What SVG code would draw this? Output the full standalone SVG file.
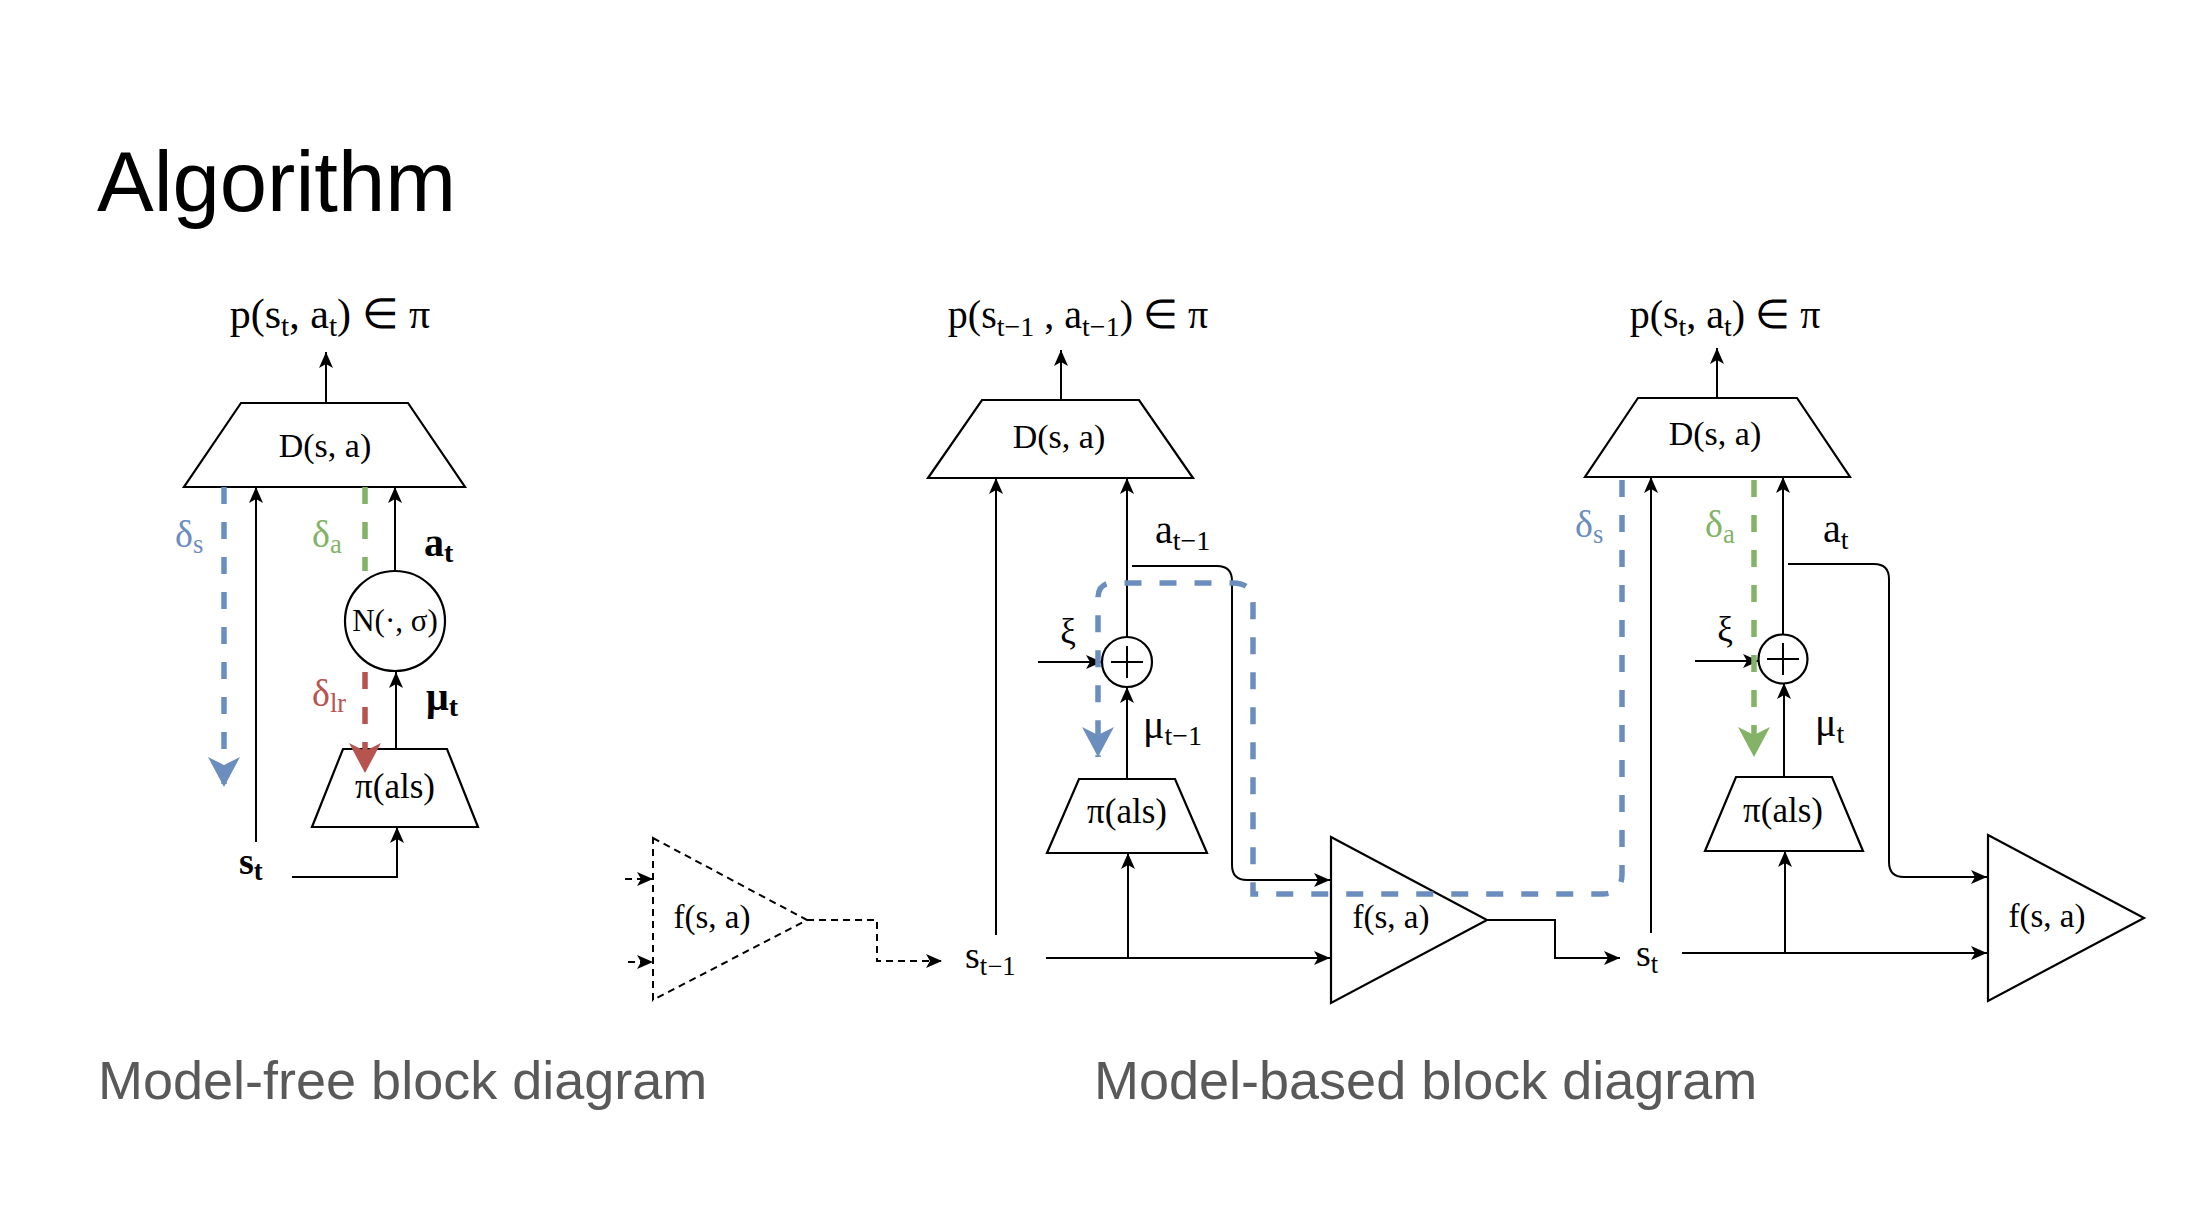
<svg xmlns="http://www.w3.org/2000/svg" width="2190" height="1232" viewBox="0 0 2190 1232">
<style>
.bg{fill:#fff}
.s{font-family:"Liberation Serif","Times New Roman",serif;fill:#000}
.h{font-family:"Liberation Sans",Arial,sans-serif}
.sb{font-size:70%}
.ln{fill:none;stroke:#000;stroke-width:2}
.box{fill:#fff;stroke:#000;stroke-width:2.2;stroke-linejoin:miter}
.dsh{fill:none;stroke:#000;stroke-width:2;stroke-dasharray:7 5}
.blue{fill:none;stroke:#6C8EBF;stroke-width:5.5;stroke-dasharray:17 18}
.green{fill:none;stroke:#82B366;stroke-width:5.5;stroke-dasharray:17 18}
.red{fill:none;stroke:#B85450;stroke-width:5.5;stroke-dasharray:17 18}
.cap{font-family:"Liberation Sans",Arial,sans-serif;font-size:54px;fill:#595959}
</style>
<defs>
<marker id="ak" markerUnits="userSpaceOnUse" markerWidth="18" markerHeight="16" refX="16" refY="8" orient="auto"><path d="M0,1 L16,8 L0,15 L4,8 Z" fill="#000"/></marker>
<marker id="ab" markerUnits="userSpaceOnUse" markerWidth="32" markerHeight="34" refX="30" refY="17" orient="auto"><path d="M0,1 L30,17 L0,33 L8,17 Z" fill="#6C8EBF"/></marker>
<marker id="ag" markerUnits="userSpaceOnUse" markerWidth="32" markerHeight="34" refX="30" refY="17" orient="auto"><path d="M0,1 L30,17 L0,33 L8,17 Z" fill="#82B366"/></marker>
<marker id="ar" markerUnits="userSpaceOnUse" markerWidth="32" markerHeight="34" refX="30" refY="17" orient="auto"><path d="M0,1 L30,17 L0,33 L8,17 Z" fill="#B85450"/></marker>
</defs>
<rect class="bg" x="0" y="0" width="2190" height="1232"/>

<text class="h" x="97" y="211" font-size="85" fill="#000">Algorithm</text>
<text class="cap" x="98" y="1099">Model-free block diagram</text>
<text class="cap" x="1094" y="1099">Model-based block diagram</text>

<!-- left nodes -->
<g id="left-out"><text class="s" x="330" y="328" font-size="42" text-anchor="middle">p(s<tspan class="sb" dy="8">t</tspan><tspan dy="-8">, a</tspan><tspan class="sb" dy="8">t</tspan><tspan dy="-8">) ∈ π</tspan></text></g>
<g id="left-D"><polygon class="box" points="241,403 408,403 465,487 184,487"/><text class="s" x="325" y="457" font-size="34" text-anchor="middle">D(s, a)</text></g>
<g id="left-N"><circle class="box" cx="395" cy="621" r="50"/><text class="s" x="395" y="631" font-size="31" text-anchor="middle">N(·, σ)</text></g>
<g id="left-pi"><polygon class="box" points="343,749 447,749 478,827 312,827"/><text class="s" x="395" y="798" font-size="35" text-anchor="middle">π(als)</text></g>
<g id="left-labels">
  <text class="s" x="175" y="547" font-size="38" style="fill:#6C8EBF">δ<tspan class="sb" dy="6">s</tspan></text>
  <text class="s" x="312" y="547" font-size="38" style="fill:#82B366">δ<tspan class="sb" dy="6">a</tspan></text>
  <text class="s" x="312" y="706" font-size="38" style="fill:#B85450">δ<tspan class="sb" dy="6">lr</tspan></text>
  <text class="s" x="424" y="556" font-size="40" font-weight="bold">a<tspan class="sb" dy="6">t</tspan></text>
  <text class="s" x="426" y="710" font-size="40" font-weight="bold">μ<tspan class="sb" dy="6">t</tspan></text>
  <text class="s" x="239" y="874" font-size="38" font-weight="bold">s<tspan class="sb" dy="6">t</tspan></text>
</g>

<!-- dashed model -->
<g id="f-prev"><polygon class="dsh" points="653,838 807,920 653,1000"/><text class="s" x="712" y="928" font-size="33" text-anchor="middle">f(s, a)</text></g>
<g id="s-prev"><text class="s" x="965" y="968" font-size="38">s<tspan class="sb" dy="7">t−1</tspan></text></g>

<!-- middle nodes -->
<g id="mid-out"><text class="s" x="1078" y="328" font-size="40" text-anchor="middle">p(s<tspan class="sb" dy="8">t−1</tspan><tspan dy="-8"> , a</tspan><tspan class="sb" dy="8">t−1</tspan><tspan dy="-8">) ∈ π</tspan></text></g>
<g id="mid-D"><polygon class="box" points="982,400 1139,400 1193,478 928,478"/><text class="s" x="1059" y="448" font-size="34" text-anchor="middle">D(s, a)</text></g>
<g id="mid-sum"><circle class="box" cx="1127" cy="662" r="25"/><path class="ln" d="M1111,662 H1143 M1127,646 V678"/></g>
<g id="mid-pi"><polygon class="box" points="1079,779 1175,779 1207,853 1047,853"/><text class="s" x="1127" y="823" font-size="35" text-anchor="middle">π(als)</text></g>
<g id="mid-f"><polygon class="box" points="1331,837 1487,920 1331,1003"/><text class="s" x="1391" y="928" font-size="33" text-anchor="middle">f(s, a)</text></g>
<g id="mid-labels">
  <text class="s" x="1155" y="543" font-size="40">a<tspan class="sb" dy="7">t−1</tspan></text>
  <text class="s" x="1068" y="643" font-size="35" text-anchor="middle">ξ</text>
  <text class="s" x="1143" y="738" font-size="40">μ<tspan class="sb" dy="7">t−1</tspan></text>
</g>
<g id="s-t"><text class="s" x="1636" y="966" font-size="38">s<tspan class="sb" dy="7">t</tspan></text></g>

<!-- right nodes -->
<g id="right-out"><text class="s" x="1725" y="328" font-size="40" text-anchor="middle">p(s<tspan class="sb" dy="8">t</tspan><tspan dy="-8">, a</tspan><tspan class="sb" dy="8">t</tspan><tspan dy="-8">) ∈ π</tspan></text></g>
<g id="right-D"><polygon class="box" points="1638,398 1797,398 1850,477 1585,477"/><text class="s" x="1715" y="445" font-size="34" text-anchor="middle">D(s, a)</text></g>
<g id="right-sum"><circle class="box" cx="1783" cy="659" r="24.5"/><path class="ln" d="M1767,659 H1799 M1783,643 V675"/></g>
<g id="right-pi"><polygon class="box" points="1736,777 1832,777 1863,851 1705,851"/><text class="s" x="1783" y="822" font-size="35" text-anchor="middle">π(als)</text></g>
<g id="right-f"><polygon class="box" points="1988,835 2144,918 1988,1001"/><text class="s" x="2047" y="927" font-size="33" text-anchor="middle">f(s, a)</text></g>
<g id="right-labels">
  <text class="s" x="1575" y="537" font-size="38" style="fill:#6C8EBF">δ<tspan class="sb" dy="6">s</tspan></text>
  <text class="s" x="1705" y="537" font-size="38" style="fill:#82B366">δ<tspan class="sb" dy="6">a</tspan></text>
  <text class="s" x="1823" y="542" font-size="40">a<tspan class="sb" dy="7">t</tspan></text>
  <text class="s" x="1725" y="641" font-size="35" text-anchor="middle">ξ</text>
  <text class="s" x="1815" y="736" font-size="40">μ<tspan class="sb" dy="7">t</tspan></text>
</g>

<!-- connectors (drawn on top) -->
<g id="connectors">
  <!-- left -->
  <line class="ln" x1="326" y1="403" x2="326" y2="352" marker-end="url(#ak)"/>
  <line class="ln" x1="256" y1="842" x2="256" y2="487" marker-end="url(#ak)"/>
  <line class="ln" x1="395" y1="571" x2="395" y2="487" marker-end="url(#ak)"/>
  <line class="ln" x1="396" y1="749" x2="396" y2="672" marker-end="url(#ak)"/>
  <polyline class="ln" points="292,877 397,877 397,827" marker-end="url(#ak)"/>
  <line class="blue" x1="224" y1="487" x2="224" y2="787" marker-end="url(#ab)"/>
  <line class="green" x1="365" y1="487" x2="365" y2="571"/>
  <line class="red" x1="365" y1="672" x2="365" y2="773" marker-end="url(#ar)"/>

  <!-- dashed model -->
  <line class="dsh" x1="625" y1="879" x2="653" y2="879" marker-end="url(#ak)"/>
  <line class="dsh" x1="628" y1="962" x2="653" y2="962" marker-end="url(#ak)"/>
  <polyline class="dsh" points="807,920 877,920 877,961 942,961" marker-end="url(#ak)"/>

  <!-- middle -->
  <line class="ln" x1="1061" y1="400" x2="1061" y2="350" marker-end="url(#ak)"/>
  <line class="ln" x1="996" y1="935" x2="996" y2="478" marker-end="url(#ak)"/>
  <line class="ln" x1="1127" y1="637" x2="1127" y2="478" marker-end="url(#ak)"/>
  <path class="ln" d="M1132,566 L1217,566 Q1232,566 1232,581 L1232,865 Q1232,880 1247,880 L1330,880" marker-end="url(#ak)"/>
  <line class="ln" x1="1038" y1="662" x2="1102" y2="662" marker-end="url(#ak)"/>
  <line class="ln" x1="1127" y1="779" x2="1127" y2="687" marker-end="url(#ak)"/>
  <line class="ln" x1="1128" y1="958" x2="1128" y2="853" marker-end="url(#ak)"/>
  <line class="ln" x1="1046" y1="958" x2="1330" y2="958" marker-end="url(#ak)"/>
  <polyline class="ln" points="1487,920 1555,920 1555,958 1620,958" marker-end="url(#ak)"/>

  <!-- right -->
  <line class="ln" x1="1717" y1="398" x2="1717" y2="348" marker-end="url(#ak)"/>
  <line class="ln" x1="1651" y1="933" x2="1651" y2="477" marker-end="url(#ak)"/>
  <line class="ln" x1="1783" y1="635" x2="1783" y2="477" marker-end="url(#ak)"/>
  <path class="ln" d="M1788,564 L1874,564 Q1889,564 1889,579 L1889,862 Q1889,877 1904,877 L1987,877" marker-end="url(#ak)"/>
  <line class="ln" x1="1695" y1="661" x2="1759" y2="661" marker-end="url(#ak)"/>
  <line class="ln" x1="1784" y1="777" x2="1784" y2="683" marker-end="url(#ak)"/>
  <line class="ln" x1="1785" y1="953" x2="1785" y2="851" marker-end="url(#ak)"/>
  <line class="ln" x1="1682" y1="953" x2="1987" y2="953" marker-end="url(#ak)"/>
  <line class="green" x1="1754" y1="480" x2="1754" y2="757" marker-end="url(#ag)"/>
  <path class="blue" d="M1622,480 L1622,874 Q1622,894 1602,894 L1253,894 L1253,603 Q1253,583 1233,583 L1113,583 Q1098,583 1098,598 L1098,757" marker-end="url(#ab)"/>
</g>
</svg>
